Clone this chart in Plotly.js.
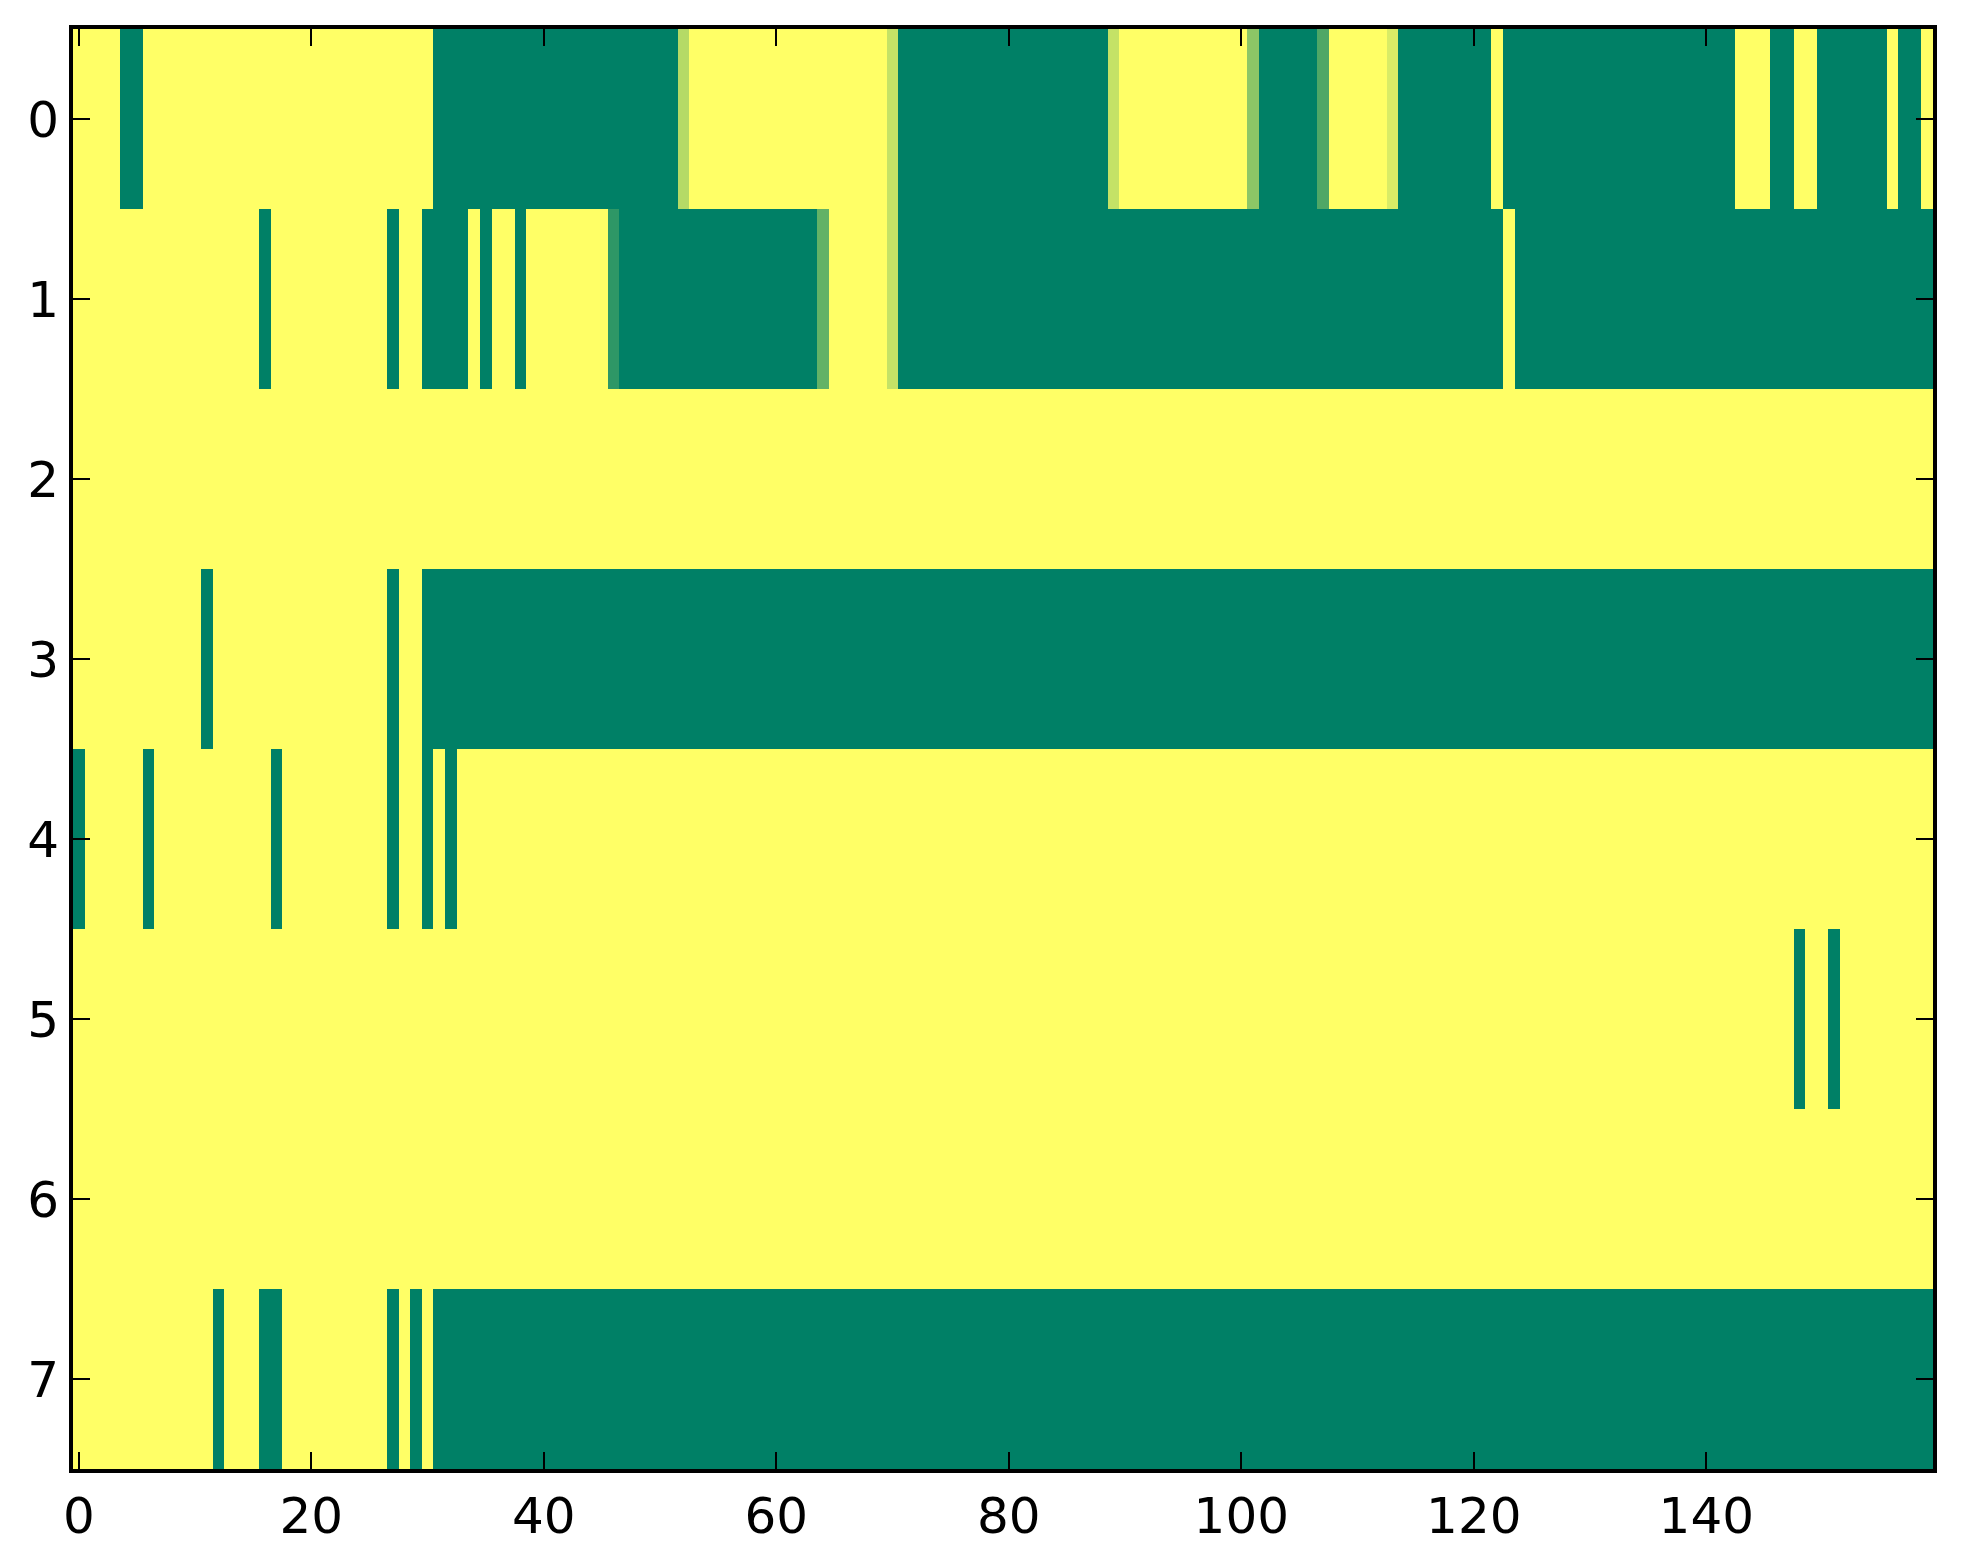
<!DOCTYPE html>
<html>
<head>
<meta charset="utf-8">
<script src="https://cdn.plot.ly/plotly-3.0.1.min.js"></script>
<style>html,body{margin:0;padding:0;background:#fff;}#chart{width:1963px;height:1564px;}</style>
</head>
<body>
<div id="chart"></div>
<script>
const rowLabels = [0, 1, 2, 3, 4, 5, 6, 7];
const xTickVals = [0, 20, 40, 60, 80, 100, 120, 140];

const row0 = [
1,1,1,1,0,0,1,1,1,1, 1,1,1,1,1,1,1,1,1,1,
1,1,1,1,1,1,1,1,1,1, 1,0,0,0,0,0,0,0,0,0,
0,0,0,0,0,0,0,0,0,0, 0,0,0.71,1,1,1,1,1,1,1,
1,1,1,1,1,1,1,1,1,1, 0.77,0,0,0,0,0,0,0,0,0,
0,0,0,0,0,0,0,0,0,0.77, 1,1,1,1,1,1,1,1,1,1,
1,0.55,0,0,0,0,0,0.31,1,1, 1,1,1,0.85,0,0,0,0,0,0,
0,0,1,0,0,0,0,0,0,0, 0,0,0,0,0,0,0,0,0,0,
0,0,0,1,1,1,0,0,1,1, 0,0,0,0,0,0,1,0,0,1
];
const row1 = [
1,1,1,1,1,1,1,1,1,1, 1,1,1,1,1,1,0,1,1,1,
1,1,1,1,1,1,1,0,1,1, 0,0,0,0,1,0,1,1,0,1,
1,1,1,1,1,1,0.18,0,0,0, 0,0,0,0,0,0,0,0,0,0,
0,0,0,0,0.39,1,1,1,1,1, 0.77,0,0,0,0,0,0,0,0,0,
0,0,0,0,0,0,0,0,0,0, 0,0,0,0,0,0,0,0,0,0,
0,0,0,0,0,0,0,0,0,0, 0,0,0,0,0,0,0,0,0,0,
0,0,0,1,0,0,0,0,0,0, 0,0,0,0,0,0,0,0,0,0,
0,0,0,0,0,0,0,0,0,0, 0,0,0,0,0,0,0,0,0,0
];
const row2 = [
1,1,1,1,1,1,1,1,1,1, 1,1,1,1,1,1,1,1,1,1,
1,1,1,1,1,1,1,1,1,1, 1,1,1,1,1,1,1,1,1,1,
1,1,1,1,1,1,1,1,1,1, 1,1,1,1,1,1,1,1,1,1,
1,1,1,1,1,1,1,1,1,1, 1,1,1,1,1,1,1,1,1,1,
1,1,1,1,1,1,1,1,1,1, 1,1,1,1,1,1,1,1,1,1,
1,1,1,1,1,1,1,1,1,1, 1,1,1,1,1,1,1,1,1,1,
1,1,1,1,1,1,1,1,1,1, 1,1,1,1,1,1,1,1,1,1,
1,1,1,1,1,1,1,1,1,1, 1,1,1,1,1,1,1,1,1,1
];
const row3 = [
1,1,1,1,1,1,1,1,1,1, 1,0,1,1,1,1,1,1,1,1,
1,1,1,1,1,1,1,0,1,1, 0,0,0,0,0,0,0,0,0,0,
0,0,0,0,0,0,0,0,0,0, 0,0,0,0,0,0,0,0,0,0,
0,0,0,0,0,0,0,0,0,0, 0,0,0,0,0,0,0,0,0,0,
0,0,0,0,0,0,0,0,0,0, 0,0,0,0,0,0,0,0,0,0,
0,0,0,0,0,0,0,0,0,0, 0,0,0,0,0,0,0,0,0,0,
0,0,0,0,0,0,0,0,0,0, 0,0,0,0,0,0,0,0,0,0,
0,0,0,0,0,0,0,0,0,0, 0,0,0,0,0,0,0,0,0,0
];
const row4 = [
0,1,1,1,1,1,0,1,1,1, 1,1,1,1,1,1,1,0,1,1,
1,1,1,1,1,1,1,0,1,1, 0,1,0,1,1,1,1,1,1,1,
1,1,1,1,1,1,1,1,1,1, 1,1,1,1,1,1,1,1,1,1,
1,1,1,1,1,1,1,1,1,1, 1,1,1,1,1,1,1,1,1,1,
1,1,1,1,1,1,1,1,1,1, 1,1,1,1,1,1,1,1,1,1,
1,1,1,1,1,1,1,1,1,1, 1,1,1,1,1,1,1,1,1,1,
1,1,1,1,1,1,1,1,1,1, 1,1,1,1,1,1,1,1,1,1,
1,1,1,1,1,1,1,1,1,1, 1,1,1,1,1,1,1,1,1,1
];
const row5 = [
1,1,1,1,1,1,1,1,1,1, 1,1,1,1,1,1,1,1,1,1,
1,1,1,1,1,1,1,1,1,1, 1,1,1,1,1,1,1,1,1,1,
1,1,1,1,1,1,1,1,1,1, 1,1,1,1,1,1,1,1,1,1,
1,1,1,1,1,1,1,1,1,1, 1,1,1,1,1,1,1,1,1,1,
1,1,1,1,1,1,1,1,1,1, 1,1,1,1,1,1,1,1,1,1,
1,1,1,1,1,1,1,1,1,1, 1,1,1,1,1,1,1,1,1,1,
1,1,1,1,1,1,1,1,1,1, 1,1,1,1,1,1,1,1,1,1,
1,1,1,1,1,1,1,1,0,1, 1,0,1,1,1,1,1,1,1,1
];
const row6 = [
1,1,1,1,1,1,1,1,1,1, 1,1,1,1,1,1,1,1,1,1,
1,1,1,1,1,1,1,1,1,1, 1,1,1,1,1,1,1,1,1,1,
1,1,1,1,1,1,1,1,1,1, 1,1,1,1,1,1,1,1,1,1,
1,1,1,1,1,1,1,1,1,1, 1,1,1,1,1,1,1,1,1,1,
1,1,1,1,1,1,1,1,1,1, 1,1,1,1,1,1,1,1,1,1,
1,1,1,1,1,1,1,1,1,1, 1,1,1,1,1,1,1,1,1,1,
1,1,1,1,1,1,1,1,1,1, 1,1,1,1,1,1,1,1,1,1,
1,1,1,1,1,1,1,1,1,1, 1,1,1,1,1,1,1,1,1,1
];
const row7 = [
1,1,1,1,1,1,1,1,1,1, 1,1,0,1,1,1,0,0,1,1,
1,1,1,1,1,1,1,0,1,0, 1,0,0,0,0,0,0,0,0,0,
0,0,0,0,0,0,0,0,0,0, 0,0,0,0,0,0,0,0,0,0,
0,0,0,0,0,0,0,0,0,0, 0,0,0,0,0,0,0,0,0,0,
0,0,0,0,0,0,0,0,0,0, 0,0,0,0,0,0,0,0,0,0,
0,0,0,0,0,0,0,0,0,0, 0,0,0,0,0,0,0,0,0,0,
0,0,0,0,0,0,0,0,0,0, 0,0,0,0,0,0,0,0,0,0,
0,0,0,0,0,0,0,0,0,0, 0,0,0,0,0,0,0,0,0,0
];

const summer = [[0, 'rgb(0,128,102)'], [1, 'rgb(255,255,102)']];

const z = [row0, row1, row2, row3, row4, row5, row6, row7];

const trace = {
  type: 'heatmap',
  z: z,
  y: rowLabels,
  colorscale: summer,
  zmin: 0,
  zmax: 1,
  showscale: false,
  hoverinfo: 'none'
};

const axisCommon = {
  ticks: 'inside',
  ticklen: 17,
  tickwidth: 2,
  tickcolor: '#000',
  showline: true,
  linecolor: '#000',
  linewidth: 4,
  mirror: 'ticks',
  showgrid: false,
  zeroline: false,
  tickfont: {family: 'DejaVu Sans', size: 50, color: '#000'}
};

const layout = {
  width: 1963,
  height: 1564,
  margin: {l: 73, r: 30, t: 29, b: 95, pad: 0},
  paper_bgcolor: '#fff',
  plot_bgcolor: '#fff',
  showlegend: false,
  xaxis: Object.assign({}, axisCommon, {
    range: [-0.5, 159.5],
    tickmode: 'array',
    tickvals: xTickVals,
    ticktext: xTickVals.map(String)
  }),
  yaxis: Object.assign({}, axisCommon, {
    range: [7.5, -0.5],
    tickmode: 'array',
    tickvals: rowLabels,
    ticktext: rowLabels.map(String)
  })
};

Plotly.newPlot('chart', [trace], layout, {displayModeBar: false, staticPlot: true});
</script>
</body>
</html>
